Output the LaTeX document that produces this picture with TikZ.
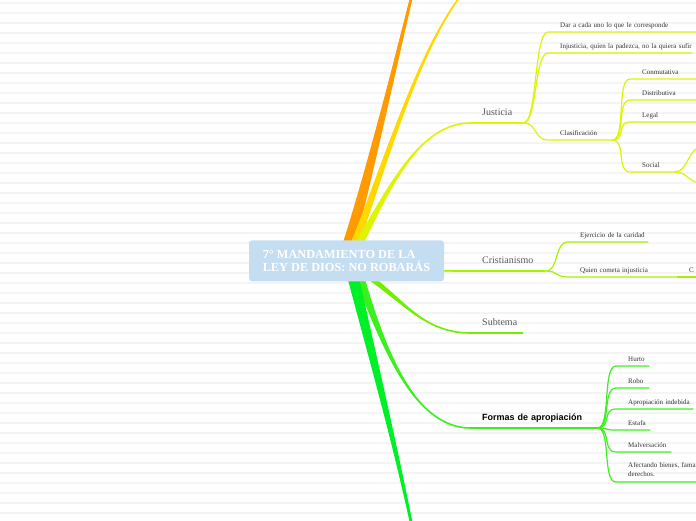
\documentclass[tikz,border=0pt]{standalone}
\usepackage{fontspec}
\setmainfont{Liberation Serif}
\newfontfamily\headsans{Liberation Sans}
\usetikzlibrary{calc,backgrounds}

\definecolor{hubblue}{HTML}{C4DDF1}
\definecolor{stripe}{HTML}{F4F4F4}
\definecolor{orangebr}{HTML}{FF9A00}
\definecolor{goldbr}{HTML}{FFD800}
\definecolor{jusbr}{HTML}{DDF500}
\definecolor{cribr}{HTML}{A8F000}
\definecolor{subbr}{HTML}{70F000}
\definecolor{forbr}{HTML}{3CF01E}
\definecolor{botbr}{HTML}{00F028}

% tapered branch: colour, start, control 1, control 2, end, half width
\newcommand{\limb}[6]{%
  \fill[#1] ($#2-#6$) .. controls #3 and #4 .. #5
    .. controls #4 and ($#3+#6$) .. ($#2+#6$) -- cycle;
  \draw[#1, line width=1.6pt] #2 .. controls #3 and #4 .. #5;}

\begin{document}
\begin{tikzpicture}[
    x=1pt, y=-1pt,
    hub/.style={rounded corners=3pt, fill=hubblue, text=white, align=left,
      minimum width=195pt, minimum height=41pt, font=\bfseries\fontsize{12.3}{13}\selectfont},
    topic/.style={anchor=south west, inner xsep=0pt, inner ysep=0pt, align=left,
      execute at begin node={\leftskip=12pt}, text depth=7.5pt,
      font=\fontsize{10}{12}\selectfont, text=black!65},
    leaf/.style={topic, text depth=4.5pt, font=\fontsize{7}{9}\selectfont, text=black!80},
    twig/.style={to path={.. controls +(14,0) and +(-14,0) .. (\tikztotarget)}},
    under/.style={line width=1.2pt},
    thick under/.style={line width=2pt}
]
\useasboundingbox (0,0) rectangle (696,520);

\node[hub] (root) at (346.5,260.8) {7° MANDAMIENTO DE LA\\LEY DE DIOS: NO ROBARÁS};

% Justicia
\node[topic, text width=53pt] (justicia) at (470,123) {Justicia};
\node[leaf, text width=160pt] (dar) at (548,32) {Dar a cada uno lo que le corresponde};
\node[leaf, text width=144pt] (injusticia) at (548,53) {Injusticia, quien la padezca, no la quiera sufir};
\node[leaf, text width=64pt] (clasif) at (548,140) {Clasificación};
\node[leaf, text width=70pt] (conmut) at (630,79) {Conmutativa};
\node[leaf, text width=70pt] (distrib) at (630,100) {Distributiva};
\node[leaf, text width=70pt] (legal) at (630,122) {Legal};
\node[leaf, text width=44pt] (social) at (630,172) {Social};
\coordinate (social up) at (702,147);
\coordinate (social down) at (702,183);

% Cristianismo
\node[topic, text width=75pt] (cristianismo) at (470,271) {Cristianismo};
\node[leaf, text width=80pt] (caridad) at (568,242) {Ejercicio de la caridad};
\node[leaf, text width=109pt] (quien) at (568,277) {Quien cometa injusticia};
\node[leaf, text width=40pt] (quienc) at (677,277) {C};

% Subtema
\node[topic, text width=53pt] (subtema) at (470,333) {Subtema};

% Formas de apropiacion
\node[topic, text width=127pt, text depth=7pt, text=black,
  font=\headsans\bfseries\fontsize{9}{11}\selectfont] (formas) at (470,428) {Formas de apropiación};
\node[leaf, text width=33pt] (hurto) at (616,366) {Hurto};
\node[leaf, text width=33pt] (robo) at (616,388) {Robo};
\node[leaf, text width=77pt] (aprop) at (616,409) {Apropiación indebida};
\node[leaf, text width=34pt] (estafa) at (616,430) {Estafa};
\node[leaf, text width=55pt] (malvers) at (616,452) {Malversación};
\node[leaf, text width=90pt, text depth=14pt] (afectando) at (616,482) {Afectando bienes, fama,\\derechos.};

% underlines and twigs
\draw[jusbr, thick under] (justicia.south west) -- (justicia.south east);
\foreach \leafnode in {dar, injusticia, clasif}
  \draw[jusbr, under] (justicia.south east) to[twig] (\leafnode.south west) -- (\leafnode.south east);
\foreach \leafnode in {conmut, distrib, legal, social}
  \draw[jusbr, under] (clasif.south east) to[twig] (\leafnode.south west) -- (\leafnode.south east);
\draw[jusbr, under] (social.south east) to[twig] (social up) -- ++(30,0);
\draw[jusbr, under] (social.south east) to[twig] (social down) -- ++(30,0);

\draw[cribr, thick under] (cristianismo.south west) -- (cristianismo.south east);
\foreach \leafnode in {caridad, quien}
  \draw[cribr, under] (cristianismo.south east) to[twig] (\leafnode.south west) -- (\leafnode.south east);
\draw[cribr, under] (quien.south east) -- (quienc.south west) -- (quienc.south east);

\draw[subbr, thick under] (subtema.south west) -- (subtema.south east);

\draw[forbr, thick under] (formas.south west) -- (formas.south east);
\foreach \leafnode in {hurto, robo, aprop, estafa, malvers, afectando}
  \draw[forbr, under] (formas.south east) to[twig] (\leafnode.south west) -- (\leafnode.south east);

\begin{scope}[on background layer]
  \foreach \k in {0,...,51}
    \draw[stripe, line width=1.2pt] (0,3+10*\k) -- (696,3+10*\k);
  \coordinate (base orange) at ($(root.north)+(0.5,10)$);
  \coordinate (base gold) at ($(root.north)+(5.5,10)$);
  \coordinate (base jus) at ($(root.north)+(9.5,10)$);
  \coordinate (base cri) at ($(root.center)+(53.5,7)$);
  \coordinate (base sub) at ($(root.south)+(16.5,-9)$);
  \coordinate (base for) at ($(root.south)+(11.5,-9)$);
  \coordinate (base bot) at ($(root.south)+(5.5,-9)$);
  \coordinate (orange end) at (448,-140);
  \coordinate (gold end) at (515,-40);
  \coordinate (bottom end) at (440,680);
  \limb{orangebr}{(base orange)}{(375,145)}{(418,-40)}{(orange end)}{(6.5,0)}
  \limb{goldbr}{(base gold)}{(385,165)}{(440,-40)}{(gold end)}{(4.5,0)}
  \limb{jusbr}{(base jus)}{(385,190)}{(420,123)}{(justicia.south west)}{(4.5,0)}
  \limb{cribr}{(base cri)}{(425,271)}{(445,271)}{(cristianismo.south west)}{(0,2)}
  \limb{subbr}{(base sub)}{(400,300)}{(425,333)}{(subtema.south west)}{(5,0)}
  \limb{forbr}{(base for)}{(375,330)}{(410,428)}{(formas.south west)}{(5,0)}
  \limb{botbr}{(base bot)}{(380,400)}{(420,540)}{(bottom end)}{(6,0)}
\end{scope}
\end{tikzpicture}
\end{document}
